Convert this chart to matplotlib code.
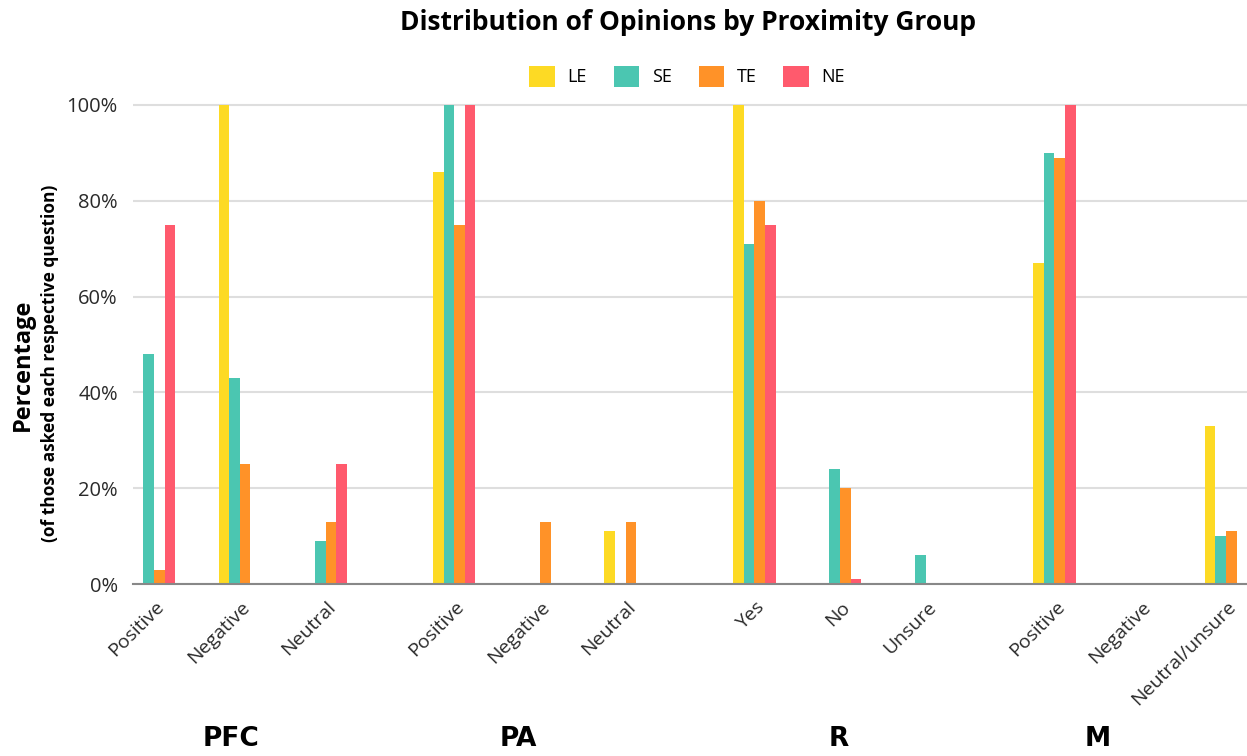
import matplotlib
matplotlib.use("Agg")
import matplotlib.pyplot as plt
import matplotlib.transforms as mtransforms
import numpy as np

categories = ["Positive", "Negative", "Neutral",
              "Positive", "Negative", "Neutral",
              "Yes", "No", "Unsure",
              "Positive", "Negative", "Neutral/unsure"]
groups = ["PFC", "PA", "R", "M"]
series = ["LE", "SE", "TE", "NE"]

LE = [0, 100, 0, 86, 0, 11, 100, 0, 0, 67, 0, 33]
SE = [48, 43, 9, 100, 0, 0, 71, 24, 6, 90, 0, 10]
TE = [3, 25, 13, 75, 13, 13, 80, 20, 0, 89, 0, 11]
NE = [75, 0, 25, 100, 0, 0, 75, 1, 0, 100, 0, 0]

colors = ["#FDDA24", "#4BC6B1", "#FF9228", "#FF5A6D"]

# layout: 3 categories per group, gap of half a category between groups
positions = []
for g in range(len(groups)):
    for c in range(3):
        positions.append(g * 3.5 + c)
positions = np.array(positions)
group_label_x = [0.9, 4.25, 7.98, 11.0]

fig = plt.figure(figsize=(12.47, 7.56), dpi=100)
ax = fig.add_axes([0.1067, 0.2275, 0.8933, 0.6368])

bw = 0.124
vals = [LE, SE, TE, NE]
for i, (name, v) in enumerate(zip(series, vals)):
    offs = (i - 1.5) * bw
    ax.bar(positions + offs, v, width=bw, color=colors[i], label=name, zorder=3,
           linewidth=0)

ax.set_xlim(-0.245, positions[-1] + 0.245)
ax.set_ylim(0, 100.5)
ax.set_yticks([0, 20, 40, 60, 80, 100])
ax.set_yticklabels([f"{t}%" for t in [0, 20, 40, 60, 80, 100]],
                   fontsize=14.5, color="#2a2a2a", family="Open Sans")
ax.grid(axis="y", color="#dedede", linewidth=1.5, zorder=0)
ax.tick_params(axis="y", length=0, pad=11)
ax.tick_params(axis="x", length=0, pad=10)
for s in ["top", "right", "left"]:
    ax.spines[s].set_visible(False)
ax.spines["bottom"].set_color("#888888")
ax.spines["bottom"].set_linewidth(1.5)
ax.spines["bottom"].set_zorder(4)

ax.set_xticks(positions)
ax.set_xticklabels(categories, rotation=45, ha="right", rotation_mode="anchor",
                   fontsize=14, color="#2a2a2a", family="Open Sans")
offset = mtransforms.ScaledTranslation(1 / 100, 0, fig.dpi_scale_trans)
for lab in ax.get_xticklabels():
    lab.set_transform(lab.get_transform() + offset)

gtrans = mtransforms.blended_transform_factory(ax.transData, fig.transFigure)
for gx, gname in zip(group_label_x, groups):
    fig.text(gx, 0.022, gname, transform=gtrans, ha="center", va="center",
             fontsize=19, fontweight="bold", family="Liberation Sans Narrow")

fig.text(0.5517, 0.97, "Distribution of Opinions by Proximity Group", ha="center", va="center",
         fontsize=19, fontweight="bold", family="Open Sans")

fig.text(0.018, 0.517, "Percentage", rotation=90, ha="center", va="center",
         fontsize=17, fontweight="bold", family="Open Sans")
fig.text(0.040, 0.52, "(of those asked each respective question)", rotation=90,
         ha="center", va="center", fontsize=12.5, fontweight="bold", family="Open Sans")

leg = fig.legend(loc="center", bbox_to_anchor=(0.551, 0.899), ncol=4, frameon=False,
                 handlelength=1.4, handleheight=1.4, columnspacing=1.5,
                 handletextpad=0.7, prop={"family": "Open Sans", "size": 13})

fig.savefig("out.png", dpi=100, facecolor="white")
